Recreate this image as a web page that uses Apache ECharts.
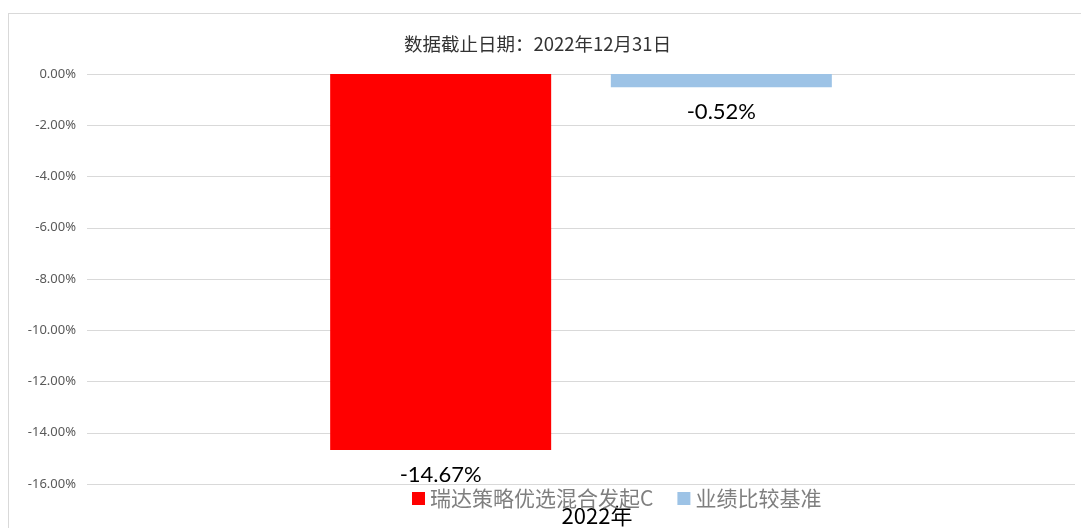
<!DOCTYPE html>
<html>
<head>
<meta charset="utf-8">
<script src="https://cdn.jsdelivr.net/npm/echarts@6/dist/echarts.min.js"></script>
<style>
  html, body { margin: 0; padding: 0; background: #fff; }
  #frame {
    position: absolute; left: 8px; top: 13px;
    width: 1200px; height: 700px;
    border: 1px solid #d9d9d9;
  }
  #main { position: absolute; left: 0; top: 0; width: 1081px; height: 528px; }
</style>
</head>
<body>
<div id="frame"></div>
<div id="main"></div>
<script>
  // 数据
  const categories = ['2022年'];
  const fundName = '瑞达策略优选混合发起C';
  const benchName = '业绩比较基准';
  const fundValues = [-14.67];
  const benchValues = [-0.52];

  var myChart = echarts.init(document.getElementById('main'));

  const labelStyle = {
    show: true,
    position: 'bottom',
    distance: 14,
    fontSize: 22,
    color: '#000',
    fontFamily: 'Lato',
    formatter: p => p.value.toFixed(2) + '%'
  };

  let option = {
    animation: false,
    title: {
      text: '数据截止日期：2022年12月31日',
      left: 399,
      top: 30,
      textStyle: {
        fontSize: 18.5,
        fontWeight: 'normal',
        color: '#333',
        fontFamily: 'Noto Sans CJK SC'
      }
    },
    legend: {
      left: 407,
      top: 483,
      itemWidth: 13,
      itemHeight: 13,
      itemGap: 24,
      icon: 'rect',
      textStyle: { fontSize: 21, color: '#7f7f7f', fontFamily: 'Noto Sans CJK SC' },
      data: [fundName, benchName]
    },
    grid: { left: 87, right: 6, top: 74, bottom: 44 },
    xAxis: {
      type: 'category',
      data: categories,
      axisLine: { show: false },
      axisTick: { show: false },
      axisLabel: {
        margin: 21,
        padding: [0, 0, 0, 32],
        fontSize: 22,
        color: '#000',
        fontFamily: 'Noto Sans CJK SC'
      }
    },
    yAxis: {
      type: 'value',
      min: -16,
      max: 0,
      interval: 2,
      axisLine: { show: false },
      axisTick: { show: false },
      axisLabel: {
        margin: 11,
        fontSize: 13,
        color: '#595959',
        fontFamily: 'Noto Sans',
        formatter: v => v.toFixed(2) + '%'
      },
      splitLine: { lineStyle: { color: '#d9d9d9', width: 1 } }
    },
    series: [
      {
        name: fundName,
        type: 'bar',
        data: fundValues,
        barWidth: 221,
        barGap: '27%',
        itemStyle: { color: '#ff0000' },
        label: labelStyle
      },
      {
        name: benchName,
        type: 'bar',
        data: benchValues,
        barWidth: 221,
        itemStyle: { color: '#9dc3e6' },
        label: labelStyle
      }
    ]
  };
  myChart.setOption(option);
</script>
</body>
</html>
